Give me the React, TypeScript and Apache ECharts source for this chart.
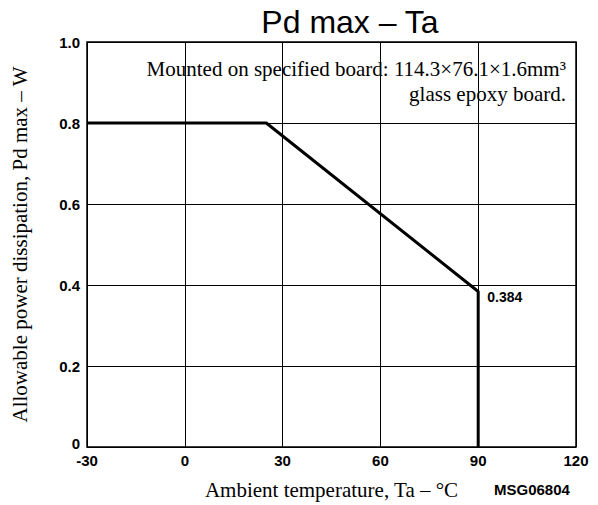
import React, { useEffect, useRef } from "react";
import * as echarts from "echarts";

const xTicks = [-30, 0, 30, 60, 90, 120];
const yTicks = [0, 0.2, 0.4, 0.6, 0.8, 1.0];
const curveX = [-30, 25, 90, 90];
const curveY = [0.8, 0.8, 0.384, 0];
const labelValue = 0.384;

export default function App() {
  const ref = useRef<HTMLDivElement>(null);
  useEffect(() => {
    if (!ref.current) return;
    const chart = echarts.init(ref.current, null, { renderer: "svg" });
    const sans = "Liberation Sans, Arial, sans-serif";
    const serif = "Liberation Serif, Times New Roman, serif";
    const data = curveX.map((x, i) => [x, curveY[i]]);
    chart.setOption({
      animation: false,
      backgroundColor: "#ffffff",
      title: {
        text: "Pd max – Ta",
        left: 345,
        textAlign: "center",
        top: 1,
        textStyle: { fontFamily: sans, fontSize: 32, fontWeight: "normal", color: "#000" },
      },
      grid: { left: 87, right: 22, top: 42, bottom: 54, show: true, borderColor: "#000", borderWidth: 1.5 },
      xAxis: {
        type: "value",
        min: xTicks[0],
        max: xTicks[xTicks.length - 1],
        interval: 30,
        axisLine: { show: false },
        axisTick: { show: false },
        splitLine: { show: true, lineStyle: { color: "#000", width: 1 } },
        axisLabel: {
          margin: 6,
          color: "#000",
          fontFamily: sans,
          fontWeight: "bold",
          fontSize: 15,
        },
        name: "Ambient temperature, Ta – °C",
        nameLocation: "middle",
        nameGap: 32,
        nameTextStyle: { fontFamily: serif, fontSize: 21, color: "#000" },
      },
      yAxis: {
        type: "value",
        min: yTicks[0],
        max: yTicks[yTicks.length - 1],
        interval: 0.2,
        axisLine: { show: false },
        axisTick: { show: false },
        splitLine: { show: true, lineStyle: { color: "#000", width: 1 } },
        axisLabel: {
          margin: 7,
          color: "#000",
          fontFamily: sans,
          fontWeight: "bold",
          fontSize: 15,
          formatter: (v: number) => (v === 0 ? "{z|0}" : v.toFixed(1)),
          rich: {
            z: {
              fontFamily: sans,
              fontWeight: "bold",
              fontSize: 15,
              color: "#000",
              padding: [0, 0, 8, 0],
            },
          },
        },
        name: "Allowable power dissipation, Pd max – W",
        nameLocation: "middle",
        nameGap: 57,
        nameTextStyle: { fontFamily: serif, fontSize: 21, color: "#000" },
      },
      series: [
        {
          type: "line",
          data,
          symbol: "none",
          lineStyle: { color: "#000", width: 3 },
          markPoint: {
            symbol: "circle",
            symbolSize: 0,
            data: [{ coord: [90, labelValue], value: labelValue }],
            label: {
              show: true,
              position: "right",
              offset: [4, 6],
              formatter: String(labelValue),
              color: "#000",
              fontFamily: sans,
              fontWeight: "bold",
              fontSize: 14,
            },
          },
        },
      ],
      graphic: [
        {
          type: "text",
          right: 32,
          top: 58,
          style: {
            text: "Mounted on specified board: 114.3×76.1×1.6mm³",
            fontFamily: serif,
            fontSize: 21,
            fill: "#000",
          },
        },
        {
          type: "text",
          right: 32,
          top: 83,
          style: {
            text: "glass epoxy board.",
            fontFamily: serif,
            fontSize: 21,
            fill: "#000",
          },
        },
        {
          type: "text",
          left: 494,
          top: 482,
          style: {
            text: "MSG06804",
            fontFamily: sans,
            fontWeight: "bold",
            fontSize: 15,
            fill: "#000",
          },
        },
      ],
    });
    return () => chart.dispose();
  }, []);
  return (
    <div
      ref={ref}
      style={{ position: "fixed", left: 0, top: 0, width: 598, height: 505, background: "#fff" }}
    />
  );
}
